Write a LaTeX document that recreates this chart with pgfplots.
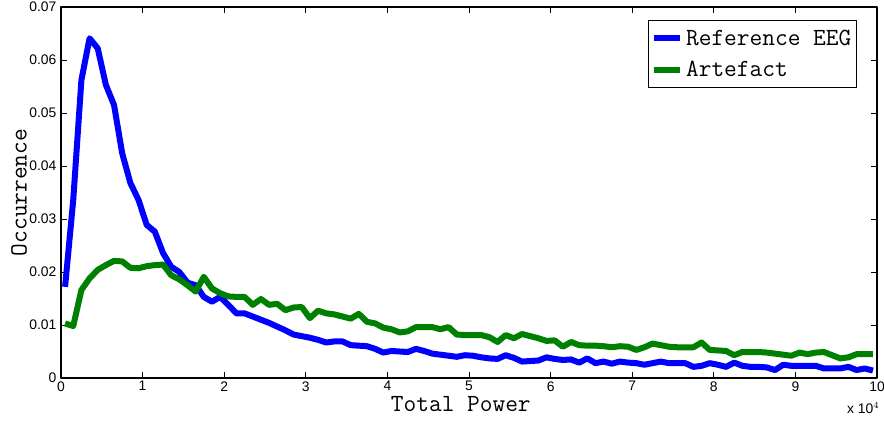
\documentclass[border=0pt]{standalone}
\usepackage{fontspec}
\setmainfont{Liberation Sans}
\usepackage{pgfplots}
\usetikzlibrary{calc}
\pgfplotsset{compat=1.18}
\definecolor{mblue}{RGB}{0,0,255}
\definecolor{mgreen}{RGB}{0,128,0}
\begin{document}
\begin{tikzpicture}
\begin{axis}[
  name=main,
  scale only axis,
  width=612pt, height=278.25pt,
  xmin=0, xmax=10, ymin=0, ymax=0.07,
  xtick={0,1,...,10}, ytick={0,0.01,...,0.07},
  yticklabels={0,0.01,0.02,0.03,0.04,0.05,0.06,0.07},
  scaled y ticks=false, scaled x ticks=false,
  /pgf/number format/assume math mode=true,
  tick align=inside, major tick length=4.5pt,
  tick style={black, line width=0.6pt},
  axis line style={black, line width=0.9pt},
  ticklabel style={font=\fontsize{10.4}{12}\selectfont, black},
  xticklabel style={yshift=1pt},
  xlabel={Total Power}, ylabel={Occurrence},
  label style={font=\ttfamily\fontsize{18.5}{21}\selectfont},
  xlabel style={at={(axis description cs:0.49,-0.070)}, anchor=center},
  ylabel style={at={(axis description cs:-0.0515,0.5)}, anchor=center},
  legend style={at={(rel axis cs:0.9755,0.965)}, anchor=north east,
    font=\ttfamily\fontsize{18.5}{21}\selectfont, draw=black, line width=0.6pt,
    inner xsep=2pt, inner ysep=5pt, row sep=6.5pt, cells={anchor=west}},
  legend image code/.code={\draw[#1] (0pt,0pt) -- (20pt,0pt);},
  line join=round,
]
\addplot[mblue, line width=4.5pt] table {
0.05 0.0172
0.15 0.0336
0.25 0.0562
0.35 0.0641
0.45 0.0622
0.55 0.0553
0.65 0.0515
0.75 0.0424
0.85 0.0368
0.95 0.0336
1.05 0.0289
1.15 0.0276
1.25 0.0236
1.35 0.0210
1.45 0.0200
1.55 0.0180
1.65 0.0175
1.75 0.0153
1.85 0.0144
1.95 0.0153
2.05 0.0138
2.15 0.0122
2.25 0.0122
2.35 0.0116
2.45 0.0110
2.55 0.0104
2.65 0.0097
2.75 0.0090
2.85 0.0082
2.95 0.0079
3.05 0.0076
3.15 0.0072
3.25 0.0067
3.35 0.0069
3.45 0.0069
3.55 0.0062
3.65 0.0061
3.75 0.0060
3.85 0.0055
3.95 0.0048
4.05 0.0051
4.15 0.0050
4.25 0.0049
4.35 0.0055
4.45 0.0051
4.55 0.0046
4.65 0.0044
4.75 0.0042
4.85 0.0040
4.95 0.0043
5.05 0.0042
5.15 0.0039
5.25 0.0037
5.35 0.0036
5.45 0.0043
5.55 0.0038
5.65 0.0031
5.75 0.0032
5.85 0.0033
5.95 0.0039
6.05 0.0036
6.15 0.0034
6.25 0.0035
6.35 0.0029
6.45 0.0037
6.55 0.0028
6.65 0.0031
6.75 0.0027
6.85 0.0031
6.95 0.0029
7.05 0.0028
7.15 0.0025
7.25 0.0028
7.35 0.0031
7.45 0.0028
7.55 0.0028
7.65 0.0028
7.75 0.0021
7.85 0.0023
7.95 0.0028
8.05 0.0025
8.15 0.0021
8.25 0.0029
8.35 0.0023
8.45 0.0021
8.55 0.0021
8.65 0.0020
8.75 0.0015
8.85 0.0025
8.95 0.0023
9.05 0.0023
9.15 0.0023
9.25 0.0023
9.35 0.0018
9.45 0.0018
9.55 0.0018
9.65 0.0021
9.75 0.0015
9.85 0.0018
9.95 0.0014
};
\addlegendentry{Reference EEG}
\addplot[mgreen, line width=4.5pt] table {
0.05 0.0103
0.15 0.0098
0.25 0.0166
0.35 0.0188
0.45 0.0204
0.55 0.0213
0.65 0.0221
0.75 0.0220
0.85 0.0208
0.95 0.0207
1.05 0.0211
1.15 0.0213
1.25 0.0214
1.35 0.0194
1.45 0.0186
1.55 0.0175
1.65 0.0163
1.75 0.0191
1.85 0.0169
1.95 0.0160
2.05 0.0154
2.15 0.0153
2.25 0.0153
2.35 0.0138
2.45 0.0149
2.55 0.0138
2.65 0.0140
2.75 0.0128
2.85 0.0133
2.95 0.0134
3.05 0.0113
3.15 0.0127
3.25 0.0122
3.35 0.0120
3.45 0.0116
3.55 0.0112
3.65 0.0121
3.75 0.0106
3.85 0.0103
3.95 0.0095
4.05 0.0092
4.15 0.0086
4.25 0.0088
4.35 0.0096
4.45 0.0096
4.55 0.0096
4.65 0.0092
4.75 0.0096
4.85 0.0082
4.95 0.0081
5.05 0.0081
5.15 0.0081
5.25 0.0077
5.35 0.0068
5.45 0.0081
5.55 0.0075
5.65 0.0083
5.75 0.0079
5.85 0.0075
5.95 0.0070
6.05 0.0071
6.15 0.0059
6.25 0.0068
6.35 0.0062
6.45 0.0061
6.55 0.0061
6.65 0.0060
6.75 0.0058
6.85 0.0060
6.95 0.0059
7.05 0.0053
7.15 0.0058
7.25 0.0065
7.35 0.0062
7.45 0.0059
7.55 0.0058
7.65 0.0058
7.75 0.0058
7.85 0.0067
7.95 0.0053
8.05 0.0052
8.15 0.0051
8.25 0.0043
8.35 0.0049
8.45 0.0049
8.55 0.0049
8.65 0.0048
8.75 0.0046
8.85 0.0044
8.95 0.0042
9.05 0.0048
9.15 0.0045
9.25 0.0048
9.35 0.0049
9.45 0.0043
9.55 0.0037
9.65 0.0039
9.75 0.0045
9.85 0.0045
9.95 0.0045
};
\addlegendentry{Artefact}
\end{axis}
\node[font=\fontsize{10.4}{12}\selectfont, anchor=center] at ($(main.south west)!0.983!(main.south east) + (0,-22.5pt)$) {x 10$^{4}$};
\pgfresetboundingbox
\path[use as bounding box] (-45.75pt,-32.25pt) rectangle (617.25pt,283.5pt);
\end{tikzpicture}
\end{document}
